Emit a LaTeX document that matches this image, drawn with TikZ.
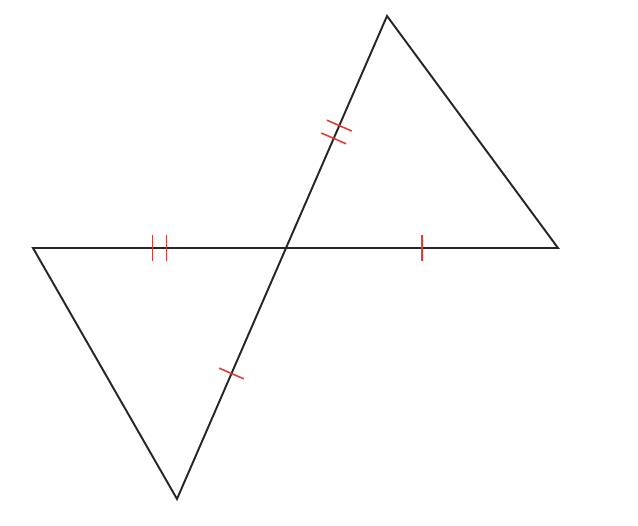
\documentclass[tikz,border=0pt]{standalone}
\usepackage{tikz}
\usetikzlibrary{calc}
\definecolor{tickred}{RGB}{232,58,48}
\tikzset{side/.style={line width=1.1pt,black!85,line join=miter},
  tickline/.style={line width=0.9pt,tickred}}
\def\singletick(#1)(#2){\draw[tickline] ($(#1)!0.5!(#2)!0.27cm!90:(#2)$) -- ($(#1)!0.5!(#2)!0.27cm!-90:(#2)$);}
\def\doubletick(#1)(#2){%
  \draw[tickline] ($(#1)!0.5!(#2)!0.14cm!(#2)!0.27cm!90:(#2)$) -- ($(#1)!0.5!(#2)!0.14cm!(#2)!0.27cm!-90:(#2)$);
  \draw[tickline] ($(#1)!0.5!(#2)!-0.14cm!(#2)!0.27cm!90:(#2)$) -- ($(#1)!0.5!(#2)!-0.14cm!(#2)!0.27cm!-90:(#2)$);}

\begin{document}
\begin{tikzpicture}[x=0.02cm,y=-0.02cm]
			%%%%% START %%%%%
			\useasboundingbox (0,0) rectangle (638,526);
			
			\coordinate (top) at (387,16);
			\coordinate (right) at (558,248);
			\coordinate (left) at (33,248);
			\coordinate (bottom) at (177,499);
			\coordinate (mid) at (286,248);
			
			\draw[side] (mid) -- (top) -- (right) -- cycle;
			\draw[side] (mid) -- (left) -- (bottom) -- cycle;
			
			\doubletick(mid)(top)
			\doubletick(left)(mid)
			\singletick(mid)(right)
			\singletick(mid)(bottom)
			%%%%% END %%%%%
\end{tikzpicture}
\end{document}
